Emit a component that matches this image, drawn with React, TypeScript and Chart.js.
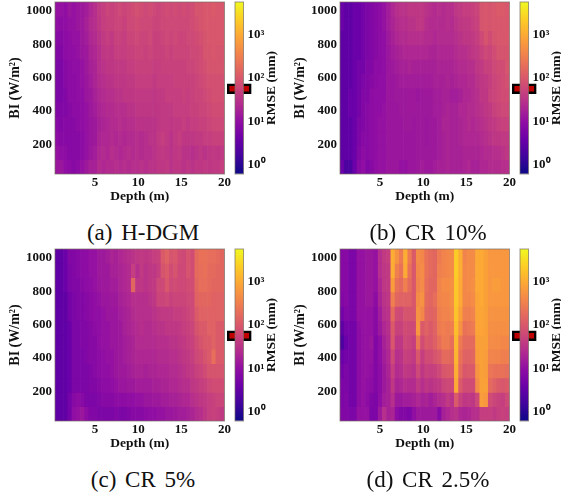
import React, { useEffect, useRef } from "react";
import { Chart, registerables } from "chart.js";

Chart.register(...registerables);

// Cell centres along depth (m)
const depthCentres = [
  0.596, 1.087, 1.578, 2.069, 2.56, 3.052, 3.543, 4.034, 4.525, 5.016,
  5.507, 5.998, 6.489, 6.98, 7.472, 7.963, 8.454, 8.945, 9.436, 9.927,
  10.418, 10.909, 11.4, 11.891, 12.382, 12.874, 13.365, 13.856, 14.347, 14.838,
  15.329, 15.82, 16.311, 16.802, 17.294, 17.785, 18.276, 18.767, 19.258, 19.749,
];
// BI band edges (W/m2), from the top band to the bottom band
const biEdges = [1054, 968, 882, 796, 710, 624, 538, 453, 367, 281, 195, 109, 23];

const depthTicks = [5, 10, 15, 20];
const biTicks = [200, 400, 600, 800, 1000];
const colourTicks = [1, 10, 100, 1000];
const colourTickLabels = ["10⁰", "10¹", "10²", "10³"];
const colourRange = [0.62, 5800];
const markerBand = [43.6, 74];

// RMSE (mm), one row per BI band, top to bottom
const hdgmRmse = [
  [11,11,10,13,11,13,14,16,22,28, 40,45,56,50,56,63,56,63,71,79, 71,63,71,63,56,63,71,63,71,63, 71,63,71,89,89,100,100,110,100,100],
  [10,9,10,11,11,13,14,18,25,28, 36,45,50,50,56,56,50,63,63,71, 63,63,63,56,56,63,63,63,63,63, 63,63,71,79,89,100,100,100,100,100],
  [8,8,9,10,11,11,14,16,22,25, 32,40,45,40,50,50,45,56,56,63, 56,56,63,50,50,56,63,56,63,56, 56,63,63,71,79,89,100,100,100,100],
  [7,7,9,10,10,11,13,14,20,22, 28,36,40,36,45,45,45,50,50,56, 56,50,56,50,50,50,56,50,56,56, 56,56,63,63,71,89,89,100,89,89],
  [6,6,8,9,10,10,11,14,18,20, 28,32,36,36,40,40,40,45,45,50, 50,50,50,45,45,50,50,50,50,50, 50,56,56,63,71,79,89,89,89,89],
  [6,6,8,9,9,10,11,13,16,20, 25,28,32,32,36,36,36,40,40,45, 45,45,45,40,45,45,45,45,50,50, 50,50,50,56,63,71,79,79,79,79],
  [6,6,7,9,9,10,10,13,14,18, 22,25,28,28,32,32,36,36,36,40, 40,40,40,36,40,40,45,45,45,45, 50,45,50,56,56,63,71,79,79,79],
  [7,7,7,8,9,9,10,11,14,16, 20,22,25,25,28,28,28,32,32,36, 36,36,36,36,36,40,40,40,45,45, 45,45,50,50,56,56,63,71,71,71],
  [8,7,8,8,8,9,10,11,13,14, 18,20,22,25,25,28,25,28,28,32, 32,32,32,32,36,40,40,36,40,40, 45,40,45,45,50,50,56,63,63,63],
  [9,8,8,8,8,8,9,11,13,14, 20,22,22,25,22,25,22,25,25,28, 25,28,32,32,40,45,40,32,40,45, 36,36,36,40,40,45,45,50,50,50],
  [11,10,9,8,8,8,9,11,14,16, 22,25,22,28,25,22,25,28,25,28, 25,28,28,32,36,40,36,32,36,40, 32,32,28,32,36,32,36,40,36,40],
  [13,13,10,9,8,9,11,14,18,18, 25,22,25,25,28,25,28,25,28,28, 32,28,32,32,36,36,40,32,36,36, 32,36,32,36,36,40,36,40,40,45],
];

const cr10Rmse = [
  [4,3,3,4,4,5,6,7,8,9, 11,16,22,28,32,32,36,36,36,36, 32,28,25,28,25,28,28,36,40,45, 45,50,56,89,100,89,100,110,110,100],
  [4,3,3,4,4,5,6,7,8,9, 11,16,20,25,28,28,32,32,36,36, 28,25,25,25,25,28,25,32,36,40, 40,45,50,89,100,89,100,100,100,100],
  [3,3,3,4,4,5,6,7,8,9, 10,14,18,22,25,25,28,28,28,28, 25,25,22,25,25,25,25,28,32,36, 36,40,45,63,89,71,89,100,100,100],
  [3,3,3,4,4,5,6,7,8,9, 10,13,16,18,20,22,22,22,22,22, 22,20,20,22,22,22,22,25,28,28, 32,36,40,50,63,56,71,89,89,89],
  [3,3,3,4,5,5,7,7,9,9, 10,13,14,16,18,18,20,18,18,18, 18,18,18,20,20,20,20,22,25,25, 28,28,36,40,50,50,63,71,71,89],
  [3,3,3,4,5,6,7,8,9,10, 10,13,13,14,16,16,16,16,16,16, 16,16,18,18,18,20,18,20,22,22, 25,25,32,36,40,45,56,63,71,79],
  [3,3,4,4,5,7,7,9,10,10, 10,13,13,14,14,14,14,14,13,14, 14,14,16,16,18,18,16,16,18,22, 22,25,28,36,36,50,56,63,71,71],
  [3,3,4,4,5,7,8,9,10,10, 11,13,13,13,14,14,14,14,14,14, 14,14,16,16,18,20,18,18,22,22, 25,25,28,32,36,40,50,56,63,63],
  [3,3,3,4,6,7,8,9,10,11, 11,13,13,13,13,14,14,13,14,14, 13,14,14,16,20,20,18,18,20,22, 25,22,25,28,32,36,40,45,50,50],
  [3,3,3,4,6,8,8,9,10,11, 11,13,13,13,13,13,13,13,14,14, 13,14,14,16,18,20,18,18,20,22, 22,22,22,25,28,32,36,36,40,40],
  [3,3,3,4,7,9,8,9,10,11, 11,13,13,13,13,13,13,13,14,14, 14,14,14,16,18,20,18,18,18,20, 20,20,20,22,25,25,28,28,32,36],
  [4,2,2,4,8,10,7,8,10,11, 11,13,13,13,11,11,13,13,14,16, 14,14,16,18,18,20,18,18,18,20, 22,18,18,22,22,25,25,25,28,28],
];

const cr5Rmse = [
  [3,3,4,7,7,8,9,9,11,11, 14,14,16,20,18,22,25,28,32,36, 40,36,40,45,50,110,140,89,100,71, 63,89,71,180,220,220,200,200,180,160],
  [3,3,4,6,7,8,9,9,11,11, 14,14,14,18,18,20,22,25,45,28, 40,32,36,36,45,89,110,71,89,63, 63,89,71,180,200,220,180,180,160,160],
  [3,3,4,6,7,7,8,9,10,11, 13,14,14,16,16,20,22,25,160,36, 36,32,36,40,63,63,100,63,71,63, 63,71,71,160,200,200,180,160,160,160],
  [3,3,3,5,6,7,7,8,9,10, 11,13,13,14,14,18,20,22,28,28, 28,28,32,36,56,56,63,50,56,56, 56,63,63,140,160,160,160,140,140,140],
  [3,3,3,5,6,7,7,8,9,10, 10,11,13,13,13,16,18,20,25,28, 28,28,28,32,36,40,40,40,45,45, 50,56,63,110,140,140,140,140,140,140],
  [3,3,3,4,6,6,7,7,8,9, 10,11,11,13,13,14,18,20,22,25, 28,25,25,28,32,32,36,36,36,40, 45,50,56,89,110,110,140,140,110,110],
  [3,3,3,4,6,6,7,7,8,8, 10,11,11,13,13,14,16,18,20,25, 25,25,25,25,28,28,28,32,32,36, 40,45,50,71,89,110,110,140,110,110],
  [3,3,3,4,6,6,6,7,8,8, 9,10,11,11,13,14,16,18,20,22, 22,22,22,22,25,25,25,28,28,32, 36,40,45,63,71,89,110,200,110,110],
  [3,3,3,4,6,6,6,6,7,8, 9,10,10,11,13,14,14,16,18,20, 20,18,20,20,22,22,22,25,25,28, 32,36,40,50,56,71,89,89,89,89],
  [3,3,3,4,6,6,6,6,7,7, 8,9,9,10,11,13,13,14,14,16, 16,16,16,18,18,20,20,22,22,25, 28,28,36,40,45,50,63,71,71,71],
  [3,3,3,5,8,9,8,6,6,6, 7,8,8,8,9,9,9,10,10,11, 11,13,13,14,14,16,16,18,18,20, 22,22,28,32,36,40,45,50,56,56],
  [3,3,3,5,10,11,13,9,7,7, 6,6,6,6,7,6,6,7,8,8, 8,9,10,10,11,11,13,13,14,16, 16,18,20,25,28,36,45,50,45,40],
];

const cr25Rmse = [
  [8,8,6,6,11,11,13,13,11,28, 40,45,1100,560,280,1100,280,110,450,400, 220,180,160,280,360,400,450,2200,1100,360, 450,450,1000,1000,800,630,630,630,630,630],
  [8,8,6,6,11,11,13,13,11,28, 36,40,1100,320,220,1000,220,100,400,450, 220,180,160,320,360,400,450,2200,1100,400, 450,450,1000,1000,800,630,630,630,630,630],
  [8,8,6,6,11,11,13,13,11,22, 36,40,710,220,180,320,180,100,360,450, 200,160,160,360,450,450,500,2000,1000,400, 450,500,1000,1000,800,630,710,710,630,630],
  [7,8,6,6,11,11,13,13,9,20, 32,36,320,160,140,140,140,100,450,560, 180,160,200,360,400,400,500,2000,1000,400, 400,450,900,1000,800,630,630,630,630,630],
  [5,7,6,6,11,11,11,11,8,16, 28,32,180,71,63,89,89,89,560,400, 160,140,160,320,360,360,450,1800,800,320, 320,360,900,900,800,560,560,560,560,560],
  [3,5,5,5,9,11,11,11,8,14, 22,28,110,50,50,71,63,63,630,110, 140,110,140,280,320,280,320,1600,560,220, 250,280,890,890,800,500,500,500,500,500],
  [2,4,5,5,9,11,11,13,7,10, 18,25,100,36,36,63,56,45,250,71, 110,100,130,200,280,280,200,1400,280,180, 180,180,800,800,800,450,450,450,400,400],
  [4,5,5,5,9,11,11,11,7,10, 16,22,63,28,32,50,45,40,100,45, 71,71,89,110,180,180,160,1300,220,140, 140,160,710,800,710,360,360,360,320,320],
  [5,6,5,5,9,11,11,10,7,9, 14,20,45,25,28,40,36,32,63,36, 50,45,50,63,100,110,110,1100,180,100, 110,110,560,800,710,250,220,220,220,200],
  [6,6,5,5,9,11,10,9,7,9, 14,18,36,20,22,28,25,25,40,28, 36,32,36,40,56,63,63,1000,110,71, 71,71,450,800,800,180,140,110,100,110],
  [6,7,5,5,9,11,9,7,6,10, 16,18,28,14,14,16,16,18,22,18, 20,16,20,25,28,40,32,110,50,36, 40,36,63,710,630,71,56,50,45,63],
  [7,7,6,6,11,11,11,6,6,14, 28,18,20,9,7,7,6,10,14,14, 14,14,14,8,18,22,28,32,22,20, 22,28,28,45,45,45,40,45,50,45],
];

const captions = ["(a) H-DGM", "(b) CR 10%", "(c) CR 5%", "(d) CR 2.5%"];
const grids = [hdgmRmse, cr10Rmse, cr5Rmse, cr25Rmse];

const plasmaStops = [
  "#0d0887", "#41049d", "#6a00a8", "#8f0da4", "#b12a90", "#cc4778",
  "#e16462", "#f2844b", "#fca636", "#fcce25", "#f0f921",
];

const SERIF = "'Liberation Serif', 'Times New Roman', serif";
const axisFont = { family: SERIF, weight: "bold" as const, size: 13 };
const titleFont = { family: SERIF, weight: "bold" as const, size: 13.5 };

const hexRgb = (h: string) => [1, 3, 5].map((i) => parseInt(h.slice(i, i + 2), 16));

function plasma(t: number) {
  const c = Math.min(Math.max(t, 0), 1) * (plasmaStops.length - 1);
  const i = Math.min(Math.floor(c), plasmaStops.length - 2);
  const a = hexRgb(plasmaStops[i]);
  const b = hexRgb(plasmaStops[i + 1]);
  const f = c - i;
  return `rgb(${a.map((v, k) => Math.round(v + (b[k] - v) * f)).join(",")})`;
}

function rmseColour(v: number) {
  const lo = Math.log10(colourRange[0]);
  const hi = Math.log10(colourRange[1]);
  return plasma((Math.log10(v) - lo) / (hi - lo));
}

const frame = {
  id: "frame",
  afterDraw(chart: any) {
    const { ctx, chartArea: a } = chart;
    ctx.save();
    ctx.strokeStyle = "rgba(120,110,100,0.7)";
    ctx.lineWidth = 1;
    ctx.strokeRect(a.left, a.top, a.right - a.left, a.bottom - a.top);
    ctx.restore();
  },
};

const colourTitle = {
  id: "colourTitle",
  afterDraw(chart: any) {
    const { ctx, chartArea: a } = chart;
    ctx.save();
    ctx.translate(a.right + 28.5, (a.top + a.bottom) / 2);
    ctx.rotate(-Math.PI / 2);
    ctx.font = `bold 13.5px ${SERIF}`;
    ctx.fillStyle = "#111";
    ctx.textAlign = "center";
    ctx.textBaseline = "middle";
    ctx.fillText("RMSE (mm)", 0, 0);
    ctx.restore();
  },
};

function heatmapConfig(grid: number[][]): any {
  return {
    type: "bar",
    data: {
      datasets: grid.map((row, r) => ({
        data: depthCentres.map((x) => ({ x, y: [biEdges[r + 1], biEdges[r]] })),
        backgroundColor: row.map(rmseColour),
        borderWidth: 0,
        grouped: false,
        barPercentage: 1,
        categoryPercentage: 1,
      })),
    },
    options: {
      responsive: false,
      animation: false,
      layout: { padding: { left: 0, top: 2, right: 7.5, bottom: 0 } },
      plugins: { legend: { display: false }, tooltip: { enabled: false } },
      scales: {
        x: {
          type: "linear",
          offset: false,
          min: 0.35,
          max: 20,
          grid: { display: false, drawTicks: false },
          border: { display: false },
          afterBuildTicks: (s: any) => {
            s.ticks = depthTicks.map((value) => ({ value }));
          },
          afterFit: (s: any) => {
            s.height = 31;
            s.paddingLeft = 0;
            s.paddingRight = 0;
          },
          ticks: {
            font: axisFont,
            color: "#111",
            padding: 1,
            maxRotation: 0,
            autoSkip: false,
            callback: (v: any) => String(v),
          },
          title: {
            display: true,
            text: "Depth (m)",
            font: titleFont,
            color: "#111",
            padding: { top: 2, bottom: 0 },
          },
        },
        y: {
          type: "linear",
          min: 23,
          max: 1054,
          grid: { display: false, drawTicks: false },
          border: { display: false },
          afterBuildTicks: (s: any) => {
            s.ticks = biTicks.map((value) => ({ value }));
          },
          afterFit: (s: any) => {
            s.width = 55;
            s.paddingTop = 0;
            s.paddingBottom = 0;
          },
          ticks: {
            font: axisFont,
            color: "#111",
            padding: 3,
            autoSkip: false,
            callback: (v: any) => String(v),
          },
          title: {
            display: true,
            text: "BI (W/m²)",
            font: { ...titleFont, size: 14 },
            color: "#111",
            padding: { top: 7, bottom: 0 },
          },
        },
      },
    },
    plugins: [frame],
  };
}

function colourbarConfig(): any {
  return {
    type: "bar",
    data: {
      datasets: [
        {
          data: [{ x: 0.5, y: colourRange }],
          backgroundColor: (c: any) => {
            const { ctx, chartArea: a } = c.chart;
            if (!a) return plasmaStops[5];
            const g = ctx.createLinearGradient(0, a.bottom, 0, a.top);
            plasmaStops.forEach((col, i) => g.addColorStop(i / (plasmaStops.length - 1), col));
            return g;
          },
          borderWidth: 0,
          grouped: false,
          barThickness: 9,
        },
        {
          data: [{ x: 0.5, y: markerBand }],
          backgroundColor: "#c00000",
          borderColor: "#000",
          borderWidth: 2.5,
          borderSkipped: false,
          grouped: false,
          barThickness: 24,
          clip: false,
        },
      ],
    },
    options: {
      responsive: false,
      animation: false,
      layout: { padding: { left: 9, top: 2, right: 0, bottom: 31 } },
      plugins: { legend: { display: false }, tooltip: { enabled: false } },
      scales: {
        x: { type: "linear", offset: false, min: 0, max: 1, display: false },
        y: {
          type: "logarithmic",
          position: "right",
          min: colourRange[0],
          max: colourRange[1],
          grid: { display: false, drawTicks: false },
          border: { display: false },
          afterBuildTicks: (s: any) => {
            s.ticks = colourTicks.map((value) => ({ value }));
          },
          afterFit: (s: any) => {
            s.width = 36.5;
            s.paddingTop = 0;
            s.paddingBottom = 0;
          },
          ticks: {
            font: axisFont,
            color: "#111",
            padding: 4,
            autoSkip: false,
            callback: (v: any) => colourTickLabels[colourTicks.indexOf(Number(v))] ?? "",
          },
        },
      },
    },
    plugins: [frame, colourTitle],
  };
}

function Panel({ grid, caption, left, top }: { grid: number[][]; caption: string; left: number; top: number }) {
  const mapRef = useRef<HTMLCanvasElement>(null);
  const barRef = useRef<HTMLCanvasElement>(null);
  useEffect(() => {
    const a = new Chart(mapRef.current!, heatmapConfig(grid));
    const b = new Chart(barRef.current!, colourbarConfig());
    return () => {
      a.destroy();
      b.destroy();
    };
  }, [grid]);
  return (
    <div style={{ position: "absolute", left, top, width: 281, height: 247 }}>
      <canvas ref={mapRef} width={232} height={205} style={{ position: "absolute", left: 0, top: 0 }} />
      <canvas ref={barRef} width={54} height={205} style={{ position: "absolute", left: 226, top: 0 }} />
      <div
        style={{
          position: "absolute",
          left: 0,
          top: 220,
          width: 286,
          textAlign: "center",
          font: `23px ${SERIF}`,
          lineHeight: "26px",
          wordSpacing: 3,
          color: "#111",
        }}
      >
        {caption}
      </div>
    </div>
  );
}

export default function App() {
  const spots = [
    [0, 0],
    [285, 0],
    [0, 247],
    [285, 247],
  ];
  return (
    <div style={{ position: "fixed", left: 0, top: 0, width: 561, height: 497, background: "#fff", overflow: "hidden" }}>
      {grids.map((g, i) => (
        <Panel key={captions[i]} grid={g} caption={captions[i]} left={spots[i][0]} top={spots[i][1]} />
      ))}
    </div>
  );
}
